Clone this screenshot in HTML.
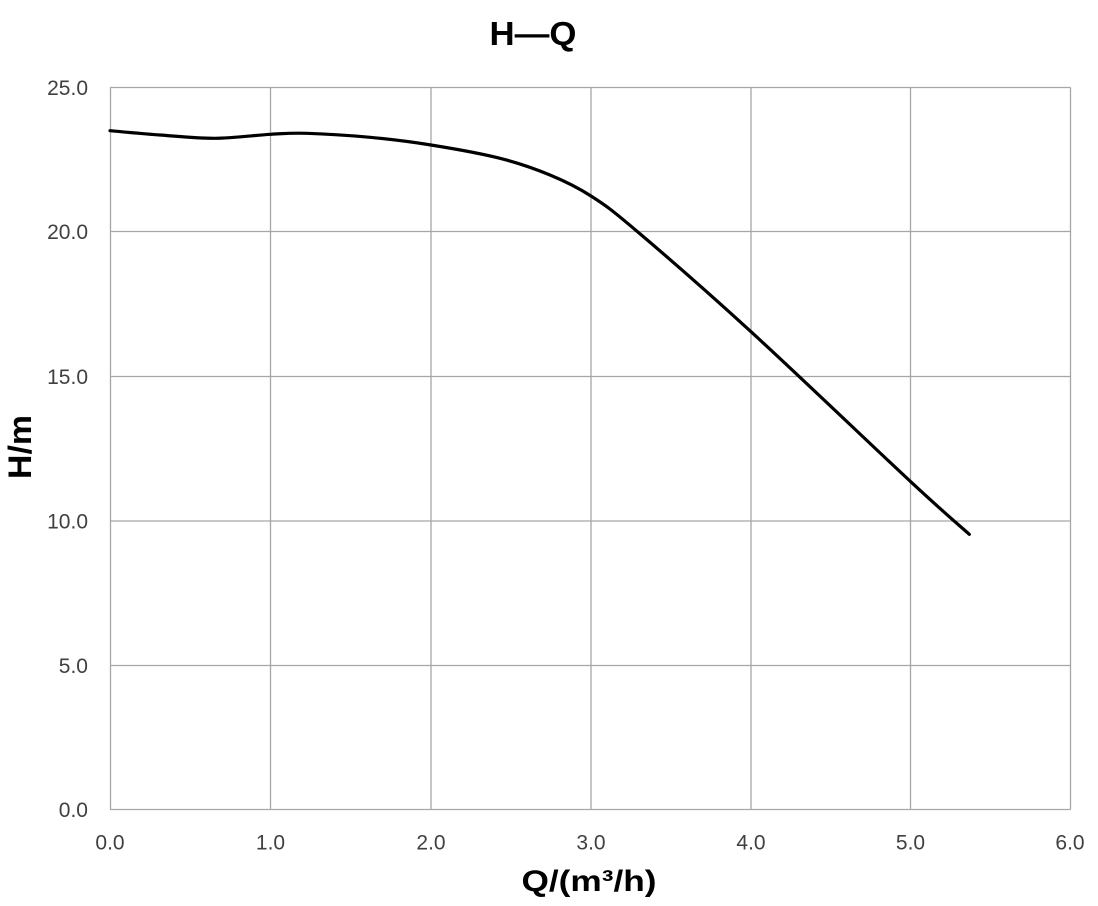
<!DOCTYPE html>
<html>
<head>
<meta charset="utf-8">
<style>
html,body{margin:0;padding:0;background:#fff;}
svg{display:block;}
</style>
</head>
<body>
<svg width="1098" height="906" viewBox="0 0 1098 906" xmlns="http://www.w3.org/2000/svg">
<rect x="0" y="0" width="1098" height="906" fill="#ffffff"/>
<!-- gridlines -->
<g stroke="#a6a6a6" stroke-width="1.3" fill="none">
<line x1="110" y1="87.5" x2="1070.5" y2="87.5"/>
<line x1="110" y1="231.5" x2="1070.5" y2="231.5"/>
<line x1="110" y1="376.5" x2="1070.5" y2="376.5"/>
<line x1="110" y1="521" x2="1070.5" y2="521"/>
<line x1="110" y1="665.5" x2="1070.5" y2="665.5"/>
<line x1="110" y1="809.5" x2="1070.5" y2="809.5"/>
<line x1="110.5" y1="87.5" x2="110.5" y2="809.5"/>
<line x1="270.5" y1="87.5" x2="270.5" y2="809.5"/>
<line x1="431" y1="87.5" x2="431" y2="809.5"/>
<line x1="591" y1="87.5" x2="591" y2="809.5"/>
<line x1="751" y1="87.5" x2="751" y2="809.5"/>
<line x1="910.5" y1="87.5" x2="910.5" y2="809.5"/>
<line x1="1070.5" y1="87.5" x2="1070.5" y2="809.5"/>
</g>
<!-- curve -->
<path d="M110,130.7 C118.3,131.4 142.5,133.7 160,135 C177.5,136.3 196.6,138.4 215,138.3 C233.5,138.2 255.4,135.1 270.7,134.3 C286,133.5 290.2,132.8 306.7,133.3 C323.3,133.8 349.3,135.4 370,137.3 C390.7,139.3 409.3,141.5 431,145 C452.7,148.5 480.2,153.3 500,158.3 C519.8,163.3 534.8,168.7 550,175 C565.2,181.3 576.6,186.7 591,196 C605.5,205.3 610,208.4 636.7,231 C663.4,253.6 705.3,289.9 751,331.7 C796.7,373.5 874.3,447.9 910.7,481.7 C947.1,515.5 959.5,525.5 969.3,534.3" fill="none" stroke="#000" stroke-width="3.2" stroke-linecap="round" stroke-linejoin="round"/>
<!-- y tick labels -->
<g font-family="Liberation Sans, sans-serif" font-size="21" fill="#404040" text-anchor="end">
<text x="88" y="95">25.0</text>
<text x="88" y="239">20.0</text>
<text x="88" y="384">15.0</text>
<text x="88" y="528.5">10.0</text>
<text x="88" y="673">5.0</text>
<text x="88" y="817">0.0</text>
</g>
<!-- x tick labels -->
<g font-family="Liberation Sans, sans-serif" font-size="21" fill="#404040" text-anchor="middle">
<text x="110" y="849.5">0.0</text>
<text x="270.5" y="849.5">1.0</text>
<text x="431" y="849.5">2.0</text>
<text x="591" y="849.5">3.0</text>
<text x="751" y="849.5">4.0</text>
<text x="910.5" y="849.5">5.0</text>
<text x="1070" y="849.5">6.0</text>
</g>
<!-- title -->
<text x="533" y="45" font-family="Liberation Sans, sans-serif" font-size="33" font-weight="bold" fill="#000" text-anchor="middle" textLength="87" lengthAdjust="spacingAndGlyphs">H—Q</text>
<!-- x axis title -->
<text x="589" y="891" font-family="Liberation Sans, sans-serif" font-size="30" font-weight="bold" fill="#000" text-anchor="middle" textLength="135" lengthAdjust="spacingAndGlyphs">Q/(m³/h)</text>
<!-- y axis title -->
<text transform="translate(31,447) rotate(-90)" x="0" y="0" font-family="Liberation Sans, sans-serif" font-size="32" font-weight="bold" fill="#000" text-anchor="middle" textLength="64" lengthAdjust="spacingAndGlyphs">H/m</text>
</svg>
</body>
</html>
